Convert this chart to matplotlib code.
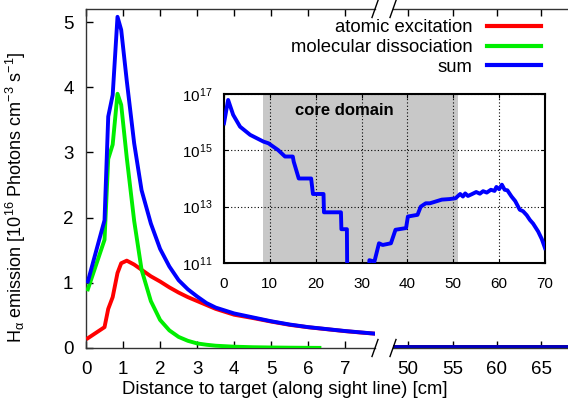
import matplotlib
matplotlib.use('Agg')
import matplotlib.pyplot as plt
from matplotlib.lines import Line2D
import numpy as np

plt.rcParams['font.family'] = ['Liberation Sans', 'DejaVu Sans']
plt.rcParams['mathtext.fontset'] = 'custom'
plt.rcParams['mathtext.rm'] = 'Liberation Sans'
plt.rcParams['mathtext.it'] = 'Liberation Sans:italic'
plt.rcParams['mathtext.bf'] = 'Liberation Sans:bold'

# near-target part of the sight line [cm], values in 1e16 photons cm^-3 s^-1
x_near = [0.05, 0.5, 0.6, 0.72, 0.85, 0.95, 1.1, 1.3, 1.5, 1.75, 2.0, 2.25, 2.5,
          2.75, 3.0, 3.25, 3.5, 4.0, 4.5, 5.0, 5.5, 6.0, 6.5, 7.0, 7.5, 7.8]
atomic = [0.15, 0.32, 0.6, 0.78, 1.15, 1.3, 1.34, 1.28, 1.2, 1.1, 1.02, 0.93, 0.85,
          0.78, 0.72, 0.66, 0.6, 0.51, 0.46, 0.405, 0.355, 0.318, 0.288, 0.258, 0.233, 0.22]
summ = [1.02, 1.96, 3.55, 3.88, 5.08, 4.88, 4.1, 3.14, 2.42, 1.91, 1.52, 1.25, 1.04,
        0.9, 0.79, 0.69, 0.62, 0.53, 0.47, 0.41, 0.36, 0.32, 0.29, 0.26, 0.235, 0.22]
x_mol = [0.05, 0.5, 0.6, 0.72, 0.85, 0.95, 1.1, 1.3, 1.5, 1.75, 2.0, 2.25, 2.5,
         2.75, 3.0, 3.25, 3.5, 4.0, 4.5, 5.0, 5.5, 6.0, 6.3]
molecular = [0.9, 1.66, 2.9, 3.12, 3.9, 3.73, 2.92, 1.95, 1.2, 0.72, 0.43, 0.27, 0.17,
             0.11, 0.07, 0.05, 0.035, 0.02, 0.012, 0.008, 0.005, 0.003, 0.002]

# far part of the sight line
x_far = [48.3, 55, 60, 65, 68]
atomic_far = [0.015, 0.015, 0.015, 0.015, 0.015]
sum_far = [0.015, 0.015, 0.015, 0.015, 0.015]

# inset: whole sight line, log10 of the sum
x_in = [0, 0.9, 2.0, 3.5, 5.7, 8.6, 9.7, 11.8, 13.3, 15.0, 15.2, 16.3, 19.0, 19.4,
        21.7, 21.8, 25.5, 25.6, 26.8, 26.9, 31.6, 31.7, 32.8, 33.8, 34.6, 36.4, 37.4,
        39.7, 40.1, 42.2, 42.9, 44.0, 44.9, 46.5, 47.5, 49.2, 50.5, 51.5, 52.1, 52.6,
        53.2, 54.0, 55.0, 55.8, 56.5, 57.3, 58.2, 59.0, 59.4, 60.0, 60.6, 61.2, 61.8,
        62.7, 63.5, 64.5, 65.2, 66.0, 66.7, 67.4, 68.5, 69.3, 70.0]
log_in = [15.96, 16.79, 16.26, 15.84, 15.55, 15.31, 15.25, 15.01, 14.78, 14.78, 14.6,
          14.0, 14.0, 13.45, 13.45, 12.8, 12.8, 12.2, 12.2, 10.0, 10.0, 11.1, 11.05,
          11.7, 11.64, 11.7, 12.18, 12.24, 12.65, 12.71, 13.0, 13.12, 13.12, 13.2, 13.25,
          13.27, 13.3, 13.45, 13.36, 13.47, 13.38, 13.44, 13.52, 13.46, 13.55, 13.5,
          13.6, 13.56, 13.7, 13.62, 13.78, 13.6, 13.58, 13.36, 13.2, 12.89, 12.84, 12.7,
          12.53, 12.4, 12.12, 11.85, 11.53]
core_domain = (8.5, 51.0)

W, H = 568, 407
fig = plt.figure(figsize=(W / 100, H / 100), dpi=100)


def fx(px):
    return px / W


def fy(py):
    return 1 - py / H


ax1 = fig.add_axes([fx(86), fy(348), fx(375) - fx(86), fy(9) - fy(348)])
ax2 = fig.add_axes([fx(393), fy(348), fx(568) - fx(393), fy(9) - fy(348)])

for ax in (ax1, ax2):
    ax.plot(x_near, atomic, color='#ff0000', lw=2.8, zorder=3)
    ax.plot(x_mol, molecular, color='#00ee00', lw=2.8, zorder=3)
    ax.plot(x_near, summ, color='#0000ff', lw=2.8, zorder=4)
    ax.plot(x_far, atomic_far, color='#ff0000', lw=2.8, zorder=3)
    ax.plot(x_far, sum_far, color='#0000bb', lw=2.8, zorder=4)
    ax.set_ylim(0, 5.2)
    ax.tick_params(direction='in', top=True, length=5, width=1, labelsize=13.5, pad=9)
    for s in ax.spines.values():
        s.set_linewidth(1.0)
        s.set_color('#333333')

ax1.set_xlim(0, 7.8)
ax1.set_xticks(range(0, 8))
ax1.set_yticks(range(0, 6))
ax1.spines['right'].set_visible(False)
ax1.set_ylabel(r'H$_\mathrm{\alpha}$ emission [10$^{16}$ Photons cm$^{-3}$ s$^{-1}$]',
               fontsize=13)
ax1.yaxis.set_label_coords(-0.2, 0.445)

ax2.set_xlim(48.3, 68)
ax2.set_xticks([50, 55, 60, 65])
ax2.set_yticks([])
ax2.spines['left'].set_visible(False)
ax2.spines['right'].set_visible(False)

fig.text(fx(285), fy(390), 'Distance to target (along sight line) [cm]',
         ha='center', va='center', fontsize=13.3)

# break marks
for cx in (375, 393):
    for cy in (9, 348):
        fig.add_artist(Line2D([fx(cx - 3), fx(cx + 3)], [fy(cy + 8.5), fy(cy - 8.5)],
                              color='black', lw=1.0))

# legend
handles = [Line2D([], [], color='#ff0000', lw=3),
           Line2D([], [], color='#00ee00', lw=3),
           Line2D([], [], color='#0000ff', lw=3)]
fig.legend(handles, ['atomic excitation', 'molecular dissociation', 'sum'],
           loc='upper right', bbox_to_anchor=(fx(550), fy(10)), frameon=False,
           markerfirst=False, fontsize=13.3, borderpad=0, handlelength=2.9,
           handletextpad=0.8, labelspacing=0.15)

# inset
ax3 = fig.add_axes([fx(224), fy(263), fx(545) - fx(224), fy(94) - fy(263)])
ax3.axvspan(core_domain[0], core_domain[1], color='#c8c8c8', lw=0, zorder=0)
ax3.plot(x_in, 10 ** np.array(log_in), color='#0000ff', lw=2.8, zorder=3)
ax3.set_yscale('log')
ax3.set_xlim(0, 70)
ax3.set_ylim(1e11, 1e17)
ax3.set_xticks(range(0, 80, 10))
ax3.set_yticks([1e11, 1e13, 1e15, 1e17])
ax3.set_yticklabels([r'$10^{11}$', r'$10^{13}$', r'$10^{15}$', r'$10^{17}$'])
ax3.minorticks_off()
ax3.tick_params(direction='in', top=True, right=True, length=3, labelsize=11)
ax3.tick_params(axis='x', pad=10)
ax3.tick_params(axis='y', pad=8)
ax3.grid(True, color='black', ls=(0, (1, 2)), lw=0.8)
for s in ax3.spines.values():
    s.set_linewidth(1.5)
ax3.text(0.22, 0.9, 'core domain', transform=ax3.transAxes,
         fontsize=12, fontweight='bold', va='center', ha='left')

fig.savefig('out.png', dpi=100)
